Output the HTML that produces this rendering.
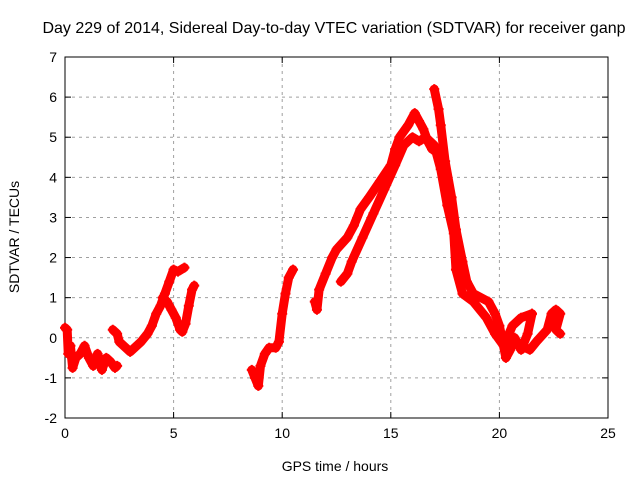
<!DOCTYPE html>
<html><head><meta charset="utf-8"><style>
body{margin:0;background:#fff}
svg{display:block;font-family:"Liberation Sans",sans-serif}
</style></head><body>
<svg id="chart" width="640" height="480" viewBox="0 0 640 480">
<rect width="640" height="480" fill="#fff"/>
<text x="334" y="33" font-size="16" text-anchor="middle" fill="#000">Day 229 of 2014, Sidereal Day-to-day VTEC variation (SDTVAR) for receiver ganp</text>
<g id="grid"></g>
<g id="axes"></g>
<g id="series"></g>
<text x="335" y="471" font-size="14" text-anchor="middle">GPS time / hours</text>
<text transform="translate(19,237) rotate(-90)" font-size="14" text-anchor="middle">SDTVAR / TECUs</text>
</svg>
<script>
const xTicks=[0,5,10,15,20,25];
const yTicks=[-2,-1,0,1,2,3,4,5,6,7];
const segA=[[0,0.25],[0.1,0.2],[0.15,-0.4],[0.25,-0.2],[0.35,-0.75],[0.5,-0.5],[0.7,-0.4],[0.9,-0.2],[1.1,-0.5],[1.3,-0.7],[1.5,-0.4],[1.7,-0.8],[1.9,-0.5],[2.1,-0.6],[2.3,-0.75],[2.4,-0.7]];
const segB=[[2.2,0.2],[2.4,0.1],[2.5,-0.1],[2.7,-0.2],[3,-0.35],[3.3,-0.2],[3.5,-0.1],[3.8,0.1],[4,0.3],[4.2,0.6],[4.4,0.8],[4.6,1.1],[4.8,1.4],[5,1.7],[5.2,1.65],[5.5,1.75]];
const segB2=[[4.5,1.0],[4.7,0.9],[4.9,0.7],[5.1,0.5],[5.3,0.2],[5.4,0.15],[5.55,0.35],[5.7,0.8],[5.85,1.2],[5.95,1.3]];
const segC=[[8.6,-0.8],[8.75,-1.0],[8.9,-1.2],[9.0,-0.7],[9.2,-0.4],[9.4,-0.25],[9.7,-0.25],[9.85,-0.1],[10.0,0.6],[10.15,1.1],[10.3,1.5],[10.5,1.7]];
const segD=[[11.5,0.9],[11.6,0.7],[11.7,1.2],[12,1.6],[12.3,2.0],[12.5,2.2],[13,2.5],[13.3,2.8],[13.6,3.2],[14,3.5],[14.5,3.9],[15,4.3],[15.2,4.7],[15.4,5.0],[15.8,5.3],[16.1,5.6],[16.3,5.4],[16.5,5.2],[16.7,4.9],[16.9,4.7]];
const segE=[[12.7,1.4],[13.0,1.6],[13.2,1.9],[13.7,2.5],[14.2,3.1],[14.7,3.7],[15.2,4.3],[15.6,4.8],[16,5.0],[16.3,4.9],[16.6,5.0],[17,4.8],[17.3,4.2],[17.6,3.3],[17.9,2.6],[18.0,1.7],[18.3,1.1],[18.8,0.9],[19.4,0.5],[19.8,0.1],[20.2,-0.2],[20.6,0.3],[21.0,0.5],[21.5,0.6]];
const segF=[[17.0,6.2],[17.2,5.7],[17.3,5.3],[17.5,4.4],[17.8,3.5],[18.0,2.7],[18.3,1.9],[18.5,1.4],[18.8,1.1],[19.5,0.9],[19.8,0.6],[20,0.3],[20.3,-0.5],[20.5,-0.3],[20.7,0],[21,-0.3],[21.3,0.1],[21.5,0.6]];
const segG=[[20.4,0.0],[20.8,-0.1],[21.0,-0.2],[21.4,-0.3],[21.7,-0.1],[22.2,0.2],[22.4,0.6],[22.6,0.7],[22.8,0.6],[22.6,0.2],[22.8,0.1]];
const series=[segA,segB,segB2,segC,segD,segE,segF,segG];
const NS="http://www.w3.org/2000/svg";
const L=65,R=608,T=57,B=418;
const xs=v=>L+(v-0)/25*(R-L);
const ys=v=>B-(v+2)/9*(B-T);
const g=document.getElementById('grid'),ax=document.getElementById('axes'),sr=document.getElementById('series');
function mk(tag,a,p){const e=document.createElementNS(NS,tag);for(const k in a)e.setAttribute(k,a[k]);p.appendChild(e);return e;}
xTicks.forEach(t=>{const x=xs(t);
 if(t>0&&t<25){const l=mk('line',{x1:x,x2:x,y1:T,y2:B,stroke:'#a0a0a0','stroke-dasharray':'3,4'},g);
 
 }
 mk('line',{x1:x,x2:x,y1:B,y2:B-6,stroke:'#000'},ax);mk('line',{x1:x,x2:x,y1:T,y2:T+6,stroke:'#000'},ax);
 const tx=mk('text',{x:x,y:B+20,'font-size':14,'text-anchor':'middle'},ax);tx.textContent=t;
 
 });
yTicks.forEach(t=>{const y=ys(t);
 if(t>-2&&t<7){const l=mk('line',{x1:L,x2:R,y1:y,y2:y,stroke:'#a0a0a0','stroke-dasharray':'3,4'},g);
 
 }
 mk('line',{x1:L,x2:L+6,y1:y,y2:y,stroke:'#000'},ax);mk('line',{x1:R,x2:R-6,y1:y,y2:y,stroke:'#000'},ax);
 const tx=mk('text',{x:L-8,y:y+5,'font-size':14,'text-anchor':'end'},ax);tx.textContent=t;
 
 });
mk('rect',{x:L,y:T,width:R-L,height:B-T,fill:'none',stroke:'#000'},ax);
series.forEach(s=>{
 const pl=mk('polyline',{points:s.map(p=>xs(p[0])+','+ys(p[1])).join(' '),fill:'none',stroke:'#f00','stroke-width':9,'stroke-linejoin':'round','stroke-linecap':'round'},sr);
 
 
 s.forEach(p=>{const x=xs(p[0]),y=ys(p[1]);
  const m=mk('path',{d:`M${x-5},${y}H${x+5}M${x},${y-5}V${y+5}`,stroke:'#f00','stroke-width':2},sr);
  
  });
});
</script>
</body></html>
